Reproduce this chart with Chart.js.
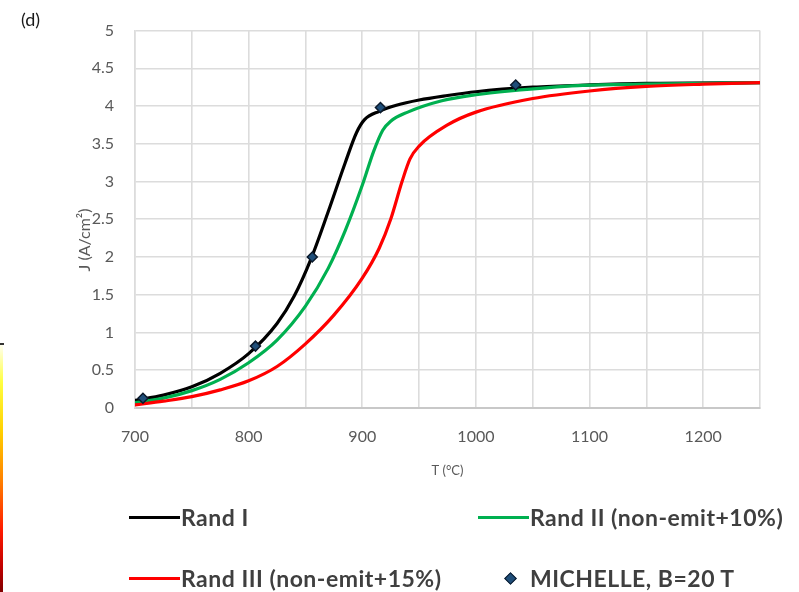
<!DOCTYPE html>
<html>
<head>
<meta charset="utf-8">
<script src="https://cdn.jsdelivr.net/npm/chart.js@4.4.1/dist/chart.umd.min.js"></script>
<style>
  html, body { margin: 0; padding: 0; background: #ffffff; }
  #wrap { position: relative; width: 799px; height: 592px; overflow: hidden; background: #fff; }
  #c { position: absolute; left: 0; top: 0; }
  #panel { position: absolute; left: 21px; top: 8px; font-family: Lato, "Open Sans", sans-serif; font-size: 18px; color: #1a1a1a; }
  #strip { position: absolute; left: 0; top: 345px; width: 3px; height: 247px;
    background: linear-gradient(to bottom, #fffff0 0%, #ffff40 15%, #ffd000 35%, #ff8000 55%, #ff1a00 75%, #c00000 90%, #800000 100%); }
  #striptick { position: absolute; left: 0; top: 343px; width: 4px; height: 2px; background: #333; }
  .lgtxt { position: absolute; font-family: Lato, "Open Sans", sans-serif; font-weight: 700; font-size: 23px; letter-spacing: 0.5px;
    color: #3f3f3f; white-space: nowrap; line-height: 26px; height: 26px; }
  .lgline { position: absolute; height: 3px; }
  .lgdia { position: absolute; width: 7px; height: 7px; transform: rotate(45deg); }
</style>
</head>
<body>
<div id="wrap">
  <canvas id="c" width="799" height="592"></canvas>
  <div id="panel">(d)</div>
  <div id="strip"></div>
  <div id="striptick"></div>
  <div id="legend"></div>
</div>
<script>
// ---------------- data ----------------
const seriesNames = ["Rand I", "Rand II (non-emit+10%)", "Rand III (non-emit+15%)", "MICHELLE, B=20 T"];

const randI_T = [700, 725, 750, 775, 800, 825, 840, 855, 870, 885, 895, 902, 915, 930, 950, 975, 1000, 1050, 1100, 1150, 1250];
const randI_J = [0.10, 0.17, 0.28, 0.46, 0.72, 1.12, 1.48, 1.98, 2.60, 3.25, 3.65, 3.82, 3.93, 4.01, 4.08, 4.14, 4.19, 4.25, 4.28, 4.30, 4.31];

const randII_T = [700, 725, 750, 775, 800, 825, 850, 870, 885, 900, 910, 918, 925, 940, 970, 1000, 1030, 1090, 1150, 1250];
const randII_J = [0.07, 0.13, 0.23, 0.38, 0.60, 0.90, 1.35, 1.85, 2.35, 2.95, 3.40, 3.68, 3.80, 3.92, 4.07, 4.15, 4.20, 4.27, 4.29, 4.31];

const randIII_T = [700, 725, 750, 775, 800, 825, 850, 875, 900, 915, 925, 935, 942, 950, 975, 1000, 1050, 1100, 1150, 1200, 1250];
const randIII_J = [0.04, 0.09, 0.15, 0.24, 0.36, 0.55, 0.85, 1.23, 1.72, 2.12, 2.50, 3.00, 3.30, 3.47, 3.75, 3.92, 4.10, 4.20, 4.26, 4.29, 4.31];

const michelle_T = [707, 806, 856, 916, 1035];
const michelle_J = [0.13, 0.82, 2.00, 3.98, 4.28];

const xTickLabels = [700, 800, 900, 1000, 1100, 1200];
const yTickLabels = [0, 0.5, 1, 1.5, 2, 2.5, 3, 3.5, 4, 4.5, 5];

const xTitle = "T (°C)";
const yTitle = "J (A/cm²)";

// ---------------- styles ----------------
const colBlack = "#000000", colGreen = "#00b050", colRed = "#ff0000";
const markerFill = "#1f4e79", markerEdge = "#0b1a2c";
const fontFam = "Lato, 'Open Sans', sans-serif";

function pts(xs, ys) { return xs.map((x, i) => ({ x: x, y: ys[i] })); }

const lineStyle = { pointRadius: 0, borderWidth: 3.2, cubicInterpolationMode: "monotone", fill: false, borderCapStyle: "round", borderJoinStyle: "round" };

// y-axis title drawn on the canvas, slightly below the axis centre like the reference
const yTitlePlugin = {
  id: "yTitle",
  afterDraw(chart) {
    const ctx = chart.ctx;
    ctx.save();
    ctx.translate(85, 240);
    ctx.rotate(-Math.PI / 2);
    ctx.fillStyle = "#595959";
    ctx.font = "16px " + fontFam;
    ctx.textAlign = "center";
    ctx.textBaseline = "middle";
    ctx.fillText(yTitle, 0, 0);
    ctx.restore();
  }
};

const chart = new Chart(document.getElementById("c"), {
  type: "line",
  data: {
    datasets: [
      Object.assign({ label: seriesNames[0], data: pts(randI_T, randI_J), borderColor: colBlack, order: 3 }, lineStyle),
      Object.assign({ label: seriesNames[1], data: pts(randII_T, randII_J), borderColor: colGreen, order: 2 }, lineStyle),
      Object.assign({ label: seriesNames[2], data: pts(randIII_T, randIII_J), borderColor: colRed, order: 1 }, lineStyle),
      { label: seriesNames[3], data: pts(michelle_T, michelle_J), showLine: false, pointStyle: "rectRot",
        pointRadius: 5, backgroundColor: markerFill, borderColor: markerEdge, borderWidth: 1.5, order: 0 }
    ]
  },
  plugins: [yTitlePlugin],
  options: {
    responsive: false,
    animation: false,
    layout: { padding: { left: 66, right: 39, top: 28, bottom: 109 } },
    plugins: { legend: { display: false }, tooltip: { enabled: false } },
    scales: {
      x: {
        type: "linear", min: 700, max: 1250,
        afterFit: (s) => { s.height = 75; },
        ticks: {
          stepSize: 50, padding: 19, color: "#595959", maxRotation: 0, autoSkip: false,
          font: { family: fontFam, size: 16 },
          callback: (v) => (xTickLabels.includes(v) ? String(v) : "")
        },
        grid: { color: "#dcdcdc", lineWidth: 1.6, drawTicks: false },
        border: { color: "#c8c8c8", width: 2 },
        title: { display: true, text: xTitle, color: "#595959", font: { family: fontFam, size: 13 } }
      },
      y: {
        type: "linear", min: 0, max: 5,
        afterFit: (s) => { s.width = 69; },
        ticks: {
          stepSize: 0.5, padding: 21, color: "#595959",
          font: { family: fontFam, size: 16 },
          callback: (v) => { const m = yTickLabels.find(t => Math.abs(t - v) < 1e-9); return m === undefined ? "" : String(m); }
        },
        grid: { color: "#dcdcdc", lineWidth: 1.6, drawTicks: false },
        border: { color: "#dcdcdc", width: 1.6 },
        title: { display: false }
      }
    }
  }
});

// ---------------- legend (HTML, from series names/colours) ----------------
const legendItems = [
  { name: seriesNames[0], kind: "line", color: colBlack, x: 129, y: 517 },
  { name: seriesNames[1], kind: "line", color: colGreen, x: 478, y: 517 },
  { name: seriesNames[2], kind: "line", color: colRed, x: 129, y: 578 },
  { name: seriesNames[3], kind: "marker", color: markerFill, x: 478, y: 578 }
];
const lg = document.getElementById("legend");
legendItems.forEach(it => {
  if (it.kind === "line") {
    const l = document.createElement("div");
    l.className = "lgline";
    l.style.left = it.x + "px"; l.style.top = (it.y - 1.5) + "px"; l.style.width = "51px";
    l.style.background = it.color;
    lg.appendChild(l);
  } else {
    const d = document.createElement("div");
    d.className = "lgdia";
    d.style.left = (it.x + 28) + "px"; d.style.top = (it.y - 4.5) + "px";
    d.style.background = it.color; d.style.border = "1px solid " + markerEdge;
    lg.appendChild(d);
  }
  const t = document.createElement("div");
  t.className = "lgtxt";
  t.textContent = it.name;
  t.style.left = (it.x + 52) + "px";
  t.style.top = (it.y - 13) + "px";
  lg.appendChild(t);
});
</script>
</body>
</html>
